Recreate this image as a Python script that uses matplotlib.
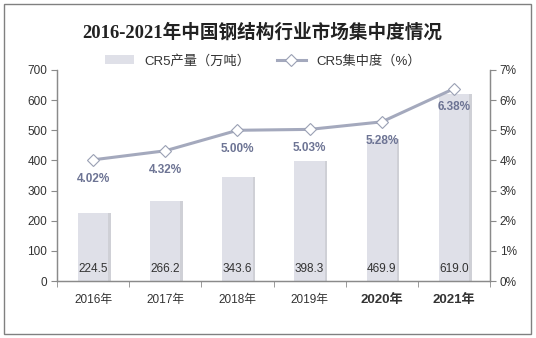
import matplotlib.pyplot as plt
from matplotlib.patches import Rectangle
import numpy as np

plt.rcParams['font.family'] = ['Liberation Sans', 'Noto Sans CJK SC', 'DejaVu Sans']

# data
years = ['2016年', '2017年', '2018年', '2019年', '2020年', '2021年']
output = [224.5, 266.2, 343.6, 398.3, 469.9, 619.0]   # CR5产量（万吨）
cr5 = [4.02, 4.32, 5.00, 5.03, 5.28, 6.38]            # CR5集中度（%）
bold_years = ['2020年', '2021年']

bar_color = '#dfe0e8'
shadow_color = '#c4c5cc'
line_color = '#a4a9bd'
pct_color = '#6d7494'
axis_color = '#8a8a8a'
text_color = '#333333'

fig = plt.figure(figsize=(5.36, 3.38), dpi=100)
ax = fig.add_axes([0.1063, 0.1686, 0.808, 0.6243])
ax2 = ax.twinx()

x = np.arange(len(years))
w = 0.42
# soft shadow on the right of each bar
ax.bar(x + 0.035, output, width=w, color=shadow_color, zorder=1, alpha=0.8)
bars = ax.bar(x, output, width=w, color=bar_color, zorder=2, label='CR5产量（万吨）')
for xi, v in zip(x, output):
    ax.annotate(f'{v:.1f}', xy=(xi, 0), xytext=(0, 9), textcoords='offset points',
                ha='center', va='center', fontsize=8.5, color=text_color, zorder=3)

ax.set_xlim(-0.5, len(years) - 0.5)
ax.set_ylim(0, 700)
ax.set_yticks(range(0, 701, 100))
ax.set_xticks(x)
ax.set_xticklabels(years)
ax.set_xticks(np.arange(-0.5, len(years)), minor=True)
ax.tick_params(axis='x', which='major', length=0, pad=9, labelsize=8.5, labelcolor=text_color)
ax.tick_params(axis='x', which='minor', length=4, color=axis_color, direction='out')
ax.tick_params(axis='y', length=4, color=axis_color, labelsize=8.5, labelcolor=text_color, pad=3)
for lbl in ax.get_xticklabels():
    if lbl.get_text() in bold_years:
        lbl.set_fontweight('bold')
        lbl.set_fontsize(9.5)

line, = ax2.plot(x, cr5, color=line_color, lw=2.2, marker='D', markersize=6,
                 markerfacecolor='white', markeredgecolor='#9aa0b4', markeredgewidth=0.8,
                 zorder=5, label='CR5集中度（%）')
for xi, v in zip(x, cr5):
    ax2.annotate(f'{v:.2f}%', xy=(xi, v), xytext=(0, -13.5), textcoords='offset points',
                 ha='center', va='center', fontsize=8.5, fontweight='bold', color=pct_color)
ax2.set_ylim(0, 7)
ax2.set_yticks(range(0, 8))
ax2.set_yticklabels([f'{i}%' for i in range(0, 8)])
ax2.tick_params(axis='y', length=4, color=axis_color, labelsize=8.5, labelcolor=text_color, pad=3)

for a in (ax, ax2):
    a.spines['top'].set_visible(False)
    for s in ('left', 'right', 'bottom'):
        a.spines[s].set_color(axis_color)
        a.spines[s].set_linewidth(0.9)
ax2.set_zorder(ax.get_zorder() + 1)
ax2.patch.set_visible(False)

fig.text(0.489, 0.905, '2016-2021年中国钢结构行业市场集中度情况',
         ha='center', va='center', fontsize=13.4, fontweight='bold', color='#222222',
         family=['Liberation Serif', 'Noto Sans CJK SC'])

fig.legend(handles=[bars, line], loc='center', bbox_to_anchor=(0.49, 0.82), ncol=2,
           frameon=False, fontsize=9.5, handlelength=2.2, columnspacing=2.0,
           labelcolor=text_color)

fig.patches.append(Rectangle((0.008, 0.012), 0.982, 0.976, transform=fig.transFigure,
                             fill=False, edgecolor='#808080', linewidth=1.0))

fig.savefig('out.png', dpi=100)
